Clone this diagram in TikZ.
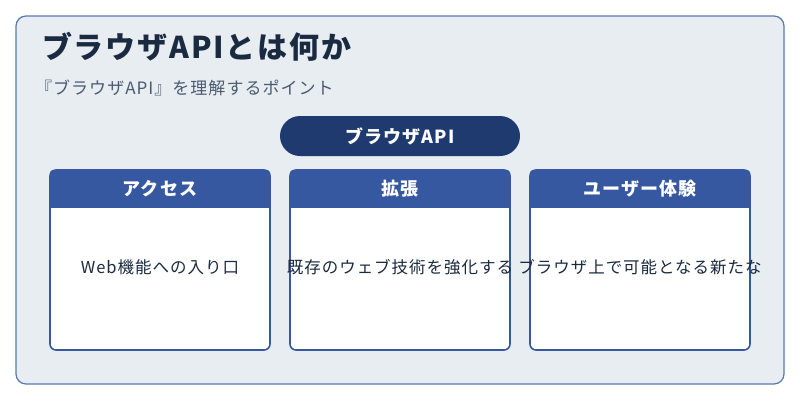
\documentclass[tikz,border=0pt]{standalone}
\usepackage{fontspec}
\setmainfont{Noto Sans CJK JP}[LetterSpace=6]
\usetikzlibrary{positioning}
\definecolor{bgpanel}{HTML}{E8EDF2}
\definecolor{panelline}{HTML}{5A78B0}
\definecolor{navy}{HTML}{1F3A6E}
\definecolor{cardblue}{HTML}{3558A0}
\definecolor{titleink}{HTML}{1A2A40}
\definecolor{subink}{HTML}{4A5A70}
\begin{document}
\begin{tikzpicture}
  [x=1pt,y=-1pt,
  card/.style={draw=cardblue,line width=1.6pt,fill=white,rounded corners=6pt},
  cardhead/.style={fill=cardblue,rounded corners=6pt},
  headtxt/.style={text=white,font=\bfseries\fontsize{18}{21}\selectfont},
  bodytxt/.style={text=titleink,font=\fontsize{16.5}{19}\selectfont}
  ]
  \useasboundingbox (0,0) rectangle (800,400);
  \draw [draw=panelline,fill=bgpanel,line width=1.2pt,rounded corners=10pt]
    (16,16) rectangle (784,384);
  \node (title) [anchor=west,inner sep=0pt,text=titleink,font=\bfseries\fontsize{30}{34}\selectfont]
    at (42,47) {ブラウザAPIとは何か};
  \node (sub) [anchor=west,inner sep=0pt,text=subink,font=\fontsize{17}{20}\selectfont]
    at (35,88) {『ブラウザAPI』を理解するポイント};
  \node (api) [fill=navy,rounded corners=20pt,minimum width=240pt,minimum height=40pt,
    headtxt] at (400,136) {ブラウザAPI};
  \foreach \x/\name/\head/\body in
    {50/access/アクセス/Web機能への入り口,
     290/ext/拡張/既存のウェブ技術を強化する,
     530/ux/ユーザー体験/ブラウザ上で可能となる新たな}
  {
    \draw [card] (\x,170) rectangle ++(220,180);
    \begin{scope}
      \clip (\x,170) rectangle ++(220,37);
      \fill [cardhead] (\x-0.8,169.2) rectangle ++(221.6,50);
    \end{scope}
    \node (\name-head) [headtxt] at (\x+110,189) {\head};
    \node (\name-body) [bodytxt] at (\x+110,267) {\body};
  }
\end{tikzpicture}
\end{document}
